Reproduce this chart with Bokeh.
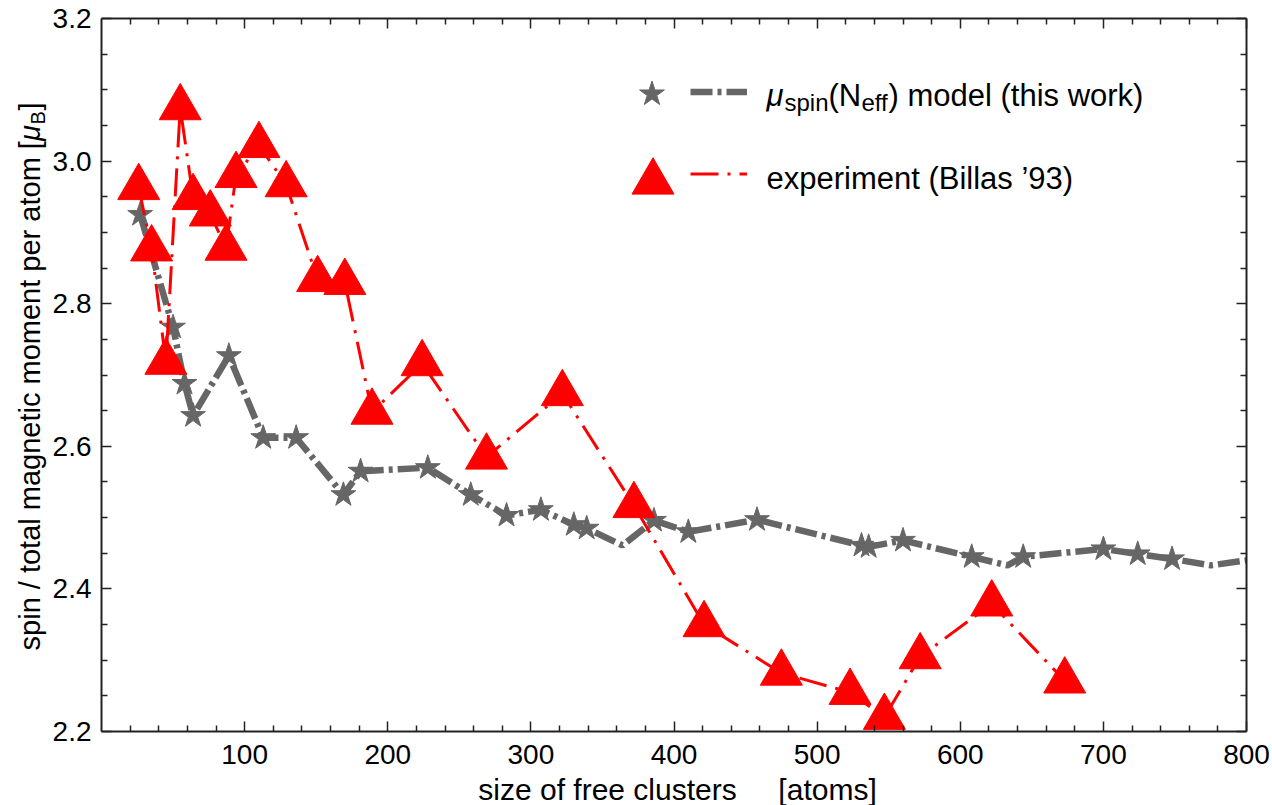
import math
from bokeh.plotting import figure
from bokeh.models import (Range1d, LinearAxis, Label, Legend, LegendItem, FixedTicker,
                          PrintfTickFormatter, CustomJSTickFormatter)
from bokeh.core.properties import value
from bokeh.embed import file_html
from bokeh.resources import INLINE

# ---------------- data ----------------
model_line_x = [27, 50, 58, 64, 89, 113, 136, 169, 181, 228, 258, 283, 307, 330, 339, 364,
                386, 410, 458, 531, 536, 560, 608, 633, 644, 700, 724, 748, 775, 800]
model_line_y = [2.925, 2.767, 2.688, 2.643, 2.727, 2.612, 2.612, 2.532, 2.565, 2.570, 2.532,
                2.503, 2.511, 2.490, 2.485, 2.461, 2.496, 2.480, 2.497, 2.461, 2.459, 2.468,
                2.445, 2.433, 2.445, 2.456, 2.449, 2.442, 2.433, 2.440]
model_star_x = [27, 50, 58, 64, 89, 113, 136, 169, 181, 228, 258, 283, 307, 330, 339,
                386, 410, 458, 531, 536, 560, 608, 644, 700, 724, 748]
model_star_y = [2.925, 2.767, 2.688, 2.643, 2.727, 2.612, 2.612, 2.532, 2.565, 2.570, 2.532,
                2.503, 2.511, 2.490, 2.485, 2.496, 2.480, 2.497, 2.461, 2.459, 2.468,
                2.445, 2.445, 2.456, 2.449, 2.442]
exp_x = [26, 35, 45, 55, 64, 76, 87, 94, 110, 129, 151, 170, 189, 224, 269, 322, 372,
         421, 475, 523, 547, 572, 622, 673]
exp_y = [2.963, 2.877, 2.718, 3.075, 2.949, 2.926, 2.878, 2.980, 3.022, 2.967, 2.834, 2.830,
         2.648, 2.716, 2.585, 2.674, 2.517, 2.350, 2.282, 2.255, 2.220, 2.305, 2.379, 2.271]

x_major = [100, 200, 300, 400, 500, 600, 700, 800]
x_minor = [v for v in range(20, 800, 20) if v % 100 != 0]
y_major = [2.2, 2.4, 2.6, 2.8, 3.0, 3.2]
y_minor = [round(2.2 + 0.05 * i, 2) for i in range(1, 20) if i % 4 != 0]
X_LO, X_HI = 0, 800
Y_LO, Y_HI = 2.2, 3.2

x_label_text = "size of free clusters\u00a0\u00a0\u00a0\u00a0\u00a0[atoms]"
y_label_main = "spin / total magnetic moment per atom ["
legend_row2 = "experiment (Billas \u201993)"

# ---------------- layout (pixels) ----------------
W, H = 1270, 805
F_LEFT, F_RIGHT, F_TOP, F_BOTTOM = 101, 1246, 18, 731   # axes box on the canvas
sx_per = (F_RIGHT - F_LEFT) / (X_HI - X_LO)
sy_per = (F_BOTTOM - F_TOP) / (Y_HI - Y_LO)
x_range = Range1d(X_LO - F_LEFT / sx_per, X_HI + (W - F_RIGHT) / sx_per)
y_range = Range1d(Y_LO - (H - F_BOTTOM) / sy_per, Y_HI + F_TOP / sy_per)

FONT = "Liberation Sans"
GREY = "#666666"
RED = "#ff0000"
AXC = "#222222"

p = figure(width=W, height=H, x_range=x_range, y_range=y_range,
           output_backend="svg", toolbar_location=None,
           x_axis_location=None, y_axis_location=None,
           min_border=0, min_border_left=0, min_border_right=0,
           min_border_top=0, min_border_bottom=0)
p.outline_line_color = None
p.xgrid.visible = False
p.ygrid.visible = False
for g in p.grid:
    g.visible = False


def make_axis(ticks, minor, loc, bounds, show_labels, fmt=None, standoff=10):
    ax = LinearAxis(ticker=FixedTicker(ticks=ticks, minor_ticks=minor),
                    fixed_location=loc, bounds=bounds)
    ax.major_tick_in = 10
    ax.major_tick_out = 0
    ax.minor_tick_in = 6
    ax.minor_tick_out = 0
    ax.axis_line_width = 2
    ax.axis_line_color = AXC
    ax.major_tick_line_color = AXC
    ax.minor_tick_line_color = AXC
    ax.major_tick_line_width = 1.5
    ax.minor_tick_line_width = 1.5
    if show_labels:
        ax.formatter = fmt if fmt is not None else PrintfTickFormatter(format="%d")
        ax.major_label_text_font = FONT
        ax.major_label_text_font_size = "28px"
        ax.major_label_text_color = "black"
        ax.major_label_standoff = standoff
    else:
        ax.formatter = CustomJSTickFormatter(code="return ''")
        ax.major_label_text_font_size = "1px"
        ax.major_label_standoff = 0
    return ax


p.add_layout(make_axis(x_major, x_minor, Y_LO, (X_LO, X_HI), True, standoff=13), "below")
p.add_layout(make_axis(y_major, y_minor, X_LO, (Y_LO, Y_HI), True,
                       PrintfTickFormatter(format="%.1f"), standoff=10), "left")
p.add_layout(make_axis(x_major, x_minor, Y_HI, (X_LO, X_HI), False), "above")
p.add_layout(make_axis(y_major, y_minor, X_HI, (Y_LO, Y_HI), False), "right")

grey_line = p.line(model_line_x, model_line_y, line_color=GREY, line_width=6.5,
                   line_dash="22 5 4 5")
stars = p.scatter(model_star_x, model_star_y, marker="star", size=26,
                  fill_color=GREY, line_color=GREY, line_width=1)
red_line = p.line(exp_x, exp_y, line_color=RED, line_width=3, line_dash="28 9 3 9")
tris = p.scatter(exp_x, exp_y, marker="triangle", size=42,
                 fill_color=RED, line_color=RED, line_width=1)


def mk_legend(items, loc, gw, gh, spacing=0):
    lg = Legend(items=items, location=loc, glyph_width=gw, glyph_height=gh, spacing=spacing,
                padding=0, margin=0, label_width=0, label_height=0, label_standoff=0,
                label_text_font_size="1px", border_line_color=None, background_fill_alpha=0)
    p.add_layout(lg)


# legend samples: location = bottom-left corner (canvas px, y measured up from bottom)
mk_legend([LegendItem(label=value(""), renderers=[stars])], (619.2, H - 125.8), 65, 65)
mk_legend([LegendItem(label=value(""), renderers=[tris])], (599.5, H - 233.5), 105, 105)
mk_legend([LegendItem(label=value(""), renderers=[grey_line]),
           LegendItem(label=value(""), renderers=[red_line])], (690, H - 194.2), 57, 41, 41)

SHIFT = 0.26  # rendered baseline sits this fraction of the font size below the anchor


def lab(text, x, y_top, size, style="normal", align="left"):
    # horizontal text; (x, y_top) = wanted baseline point, canvas px from top-left
    p.add_layout(Label(x=x, y=H - (y_top - SHIFT * size), x_units="screen", y_units="screen",
                       text=text, text_font=FONT, text_font_size=f"{size}px",
                       text_font_style=style, text_align=align,
                       text_baseline="alphabetic", text_color="black"))


def vlab(text, x_base, y_top, size, style="normal", align="left"):
    # text rotated 90 deg (reads upward); x_base = wanted baseline x
    p.add_layout(Label(x=x_base - SHIFT * size, y=H - y_top, x_units="screen", y_units="screen",
                       text=text, text_font=FONT, text_font_size=f"{size}px",
                       text_font_style=style, text_align=align, angle=math.pi / 2,
                       text_baseline="alphabetic", text_color="black"))


# legend texts
lab("\u03bc", 766, 103, 31, "italic")
lab("spin", 784, 108, 24)
lab("(N", 828, 103, 31)
lab("eff", 861, 108, 24)
lab(") model (this work)", 888, 103, 31)
lab(legend_row2, 766, 186, 31)

# axis titles
lab(x_label_text, 677, 797, 30, align="center")
YB = 37
vlab(y_label_main, YB, 140.6, 29, align="right")
vlab("\u03bc", YB, 140.6, 29, "italic")
vlab("B", YB + 6, 123.9, 20)
vlab("]", YB, 110.1, 29)

open("out.html", "w").write(file_html(p, INLINE))
